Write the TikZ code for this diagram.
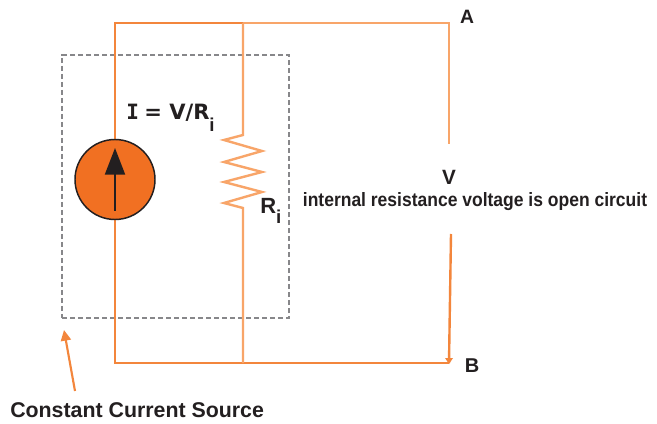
\documentclass[tikz,border=0pt]{standalone}
\usepackage{fontspec}
\setmainfont{Liberation Sans}
\newfontfamily\wide{DejaVu Sans}
\newfontfamily\widemono{DejaVu Sans Mono}
\newfontfamily\plain{Liberation Sans}
\usetikzlibrary{arrows.meta}
\definecolor{wire}{RGB}{243,134,60}
\definecolor{wirelight}{RGB}{248,165,105}
\definecolor{fillor}{RGB}{241,112,34}
\definecolor{ink}{RGB}{35,31,32}
\definecolor{dash}{RGB}{135,135,138}
\tikzset{
  wireline/.style={draw=wire,line width=1.8pt},
  lightline/.style={draw=wirelight,line width=1.8pt},
  lbl/.style={text=ink,font=\bfseries,inner sep=0pt},
  frame/.style={draw=dash,line width=1.6pt,dash pattern=on 4pt off 2pt},
  source/.style={circle,draw=ink,line width=1.1pt,fill=fillor,minimum size=60pt,inner sep=0pt}
}
\begin{document}
\begin{tikzpicture}[x=0.75pt,y=-0.75pt]
\useasboundingbox (0,0) rectangle (657,424);
\fill[white] (0,0) rectangle (657,424);
% named points
\coordinate (tl) at (115,23);
\coordinate (tm) at (243,23);
\coordinate (tr) at (449,23);
\coordinate (ra) at (449,144);
\coordinate (rb) at (451,234);
\coordinate (br) at (449,363);
\coordinate (bm) at (243,363);
\coordinate (bl) at (115,363);
\coordinate (rtop) at (243,135);
\coordinate (rbot) at (243,208);
\coordinate (tail) at (75,391);
\coordinate (head) at (64,330);
\coordinate (atail) at (115,211);
\coordinate (ahead) at (115,148);
% frame
\node[frame,minimum width=170.25pt,minimum height=197.25pt,inner sep=0pt] (box) at (175.5,186.5) {};
% wires
\draw[lightline] (tm) -- (tr) -- (ra);
\draw[wireline] (tm) -- (tl) -- (bl) -- (br);
\draw[lightline] (tm) -- (rtop) -- (224,140) -- (262,151) -- (224,162) -- (262,172) -- (224,182) -- (262,192) -- (224,203) -- (rbot) -- (bm);
\draw[wireline] (rb) -- (br);
\fill[wire] (445,358) -- (453,358) -- (449,364) -- cycle;
% source
\node[source] (src) at (115,179.5) {};
\draw[ink,line width=1.6pt,-{Triangle[length=20pt,width=15pt]}] (atail) -- (ahead);
% pointer
\draw[wire,line width=1.6pt,-{Triangle[length=8pt,width=7.5pt]}] (tail) -- (head);
% labels
\node[lbl,font=\wide\bfseries\fontsize{15.8}{18}\selectfont,anchor=base west] (cur) at (126,120) {{\widemono\bfseries I}\kern-1.5pt{} = V/R\raisebox{-8.5pt}{\plain\bfseries\fontsize{14}{14}\selectfont i}};
\node[lbl,font=\bfseries\fontsize{16.5}{18}\selectfont,anchor=base west] (ri) at (260,214) {R\raisebox{-7.5pt}{\fontsize{14}{14}\selectfont i}};
\node[lbl,font=\bfseries\fontsize{14.5}{16}\selectfont] (a) at (467,17) {A};
\node[lbl,font=\bfseries\fontsize{15}{16}\selectfont] (b) at (472,366) {B};
\node[lbl,font=\bfseries\fontsize{15.5}{16}\selectfont] (v) at (449,177) {V};
\node[lbl,font=\bfseries\fontsize{14.5}{16}\selectfont,xscale=0.905] (note) at (475,202) {internal resistance voltage is open circuit};
\node[lbl,font=\bfseries\fontsize{16}{18}\selectfont,anchor=base west] (ccs) at (10,417) {Constant Current Source};
\end{tikzpicture}
\end{document}
